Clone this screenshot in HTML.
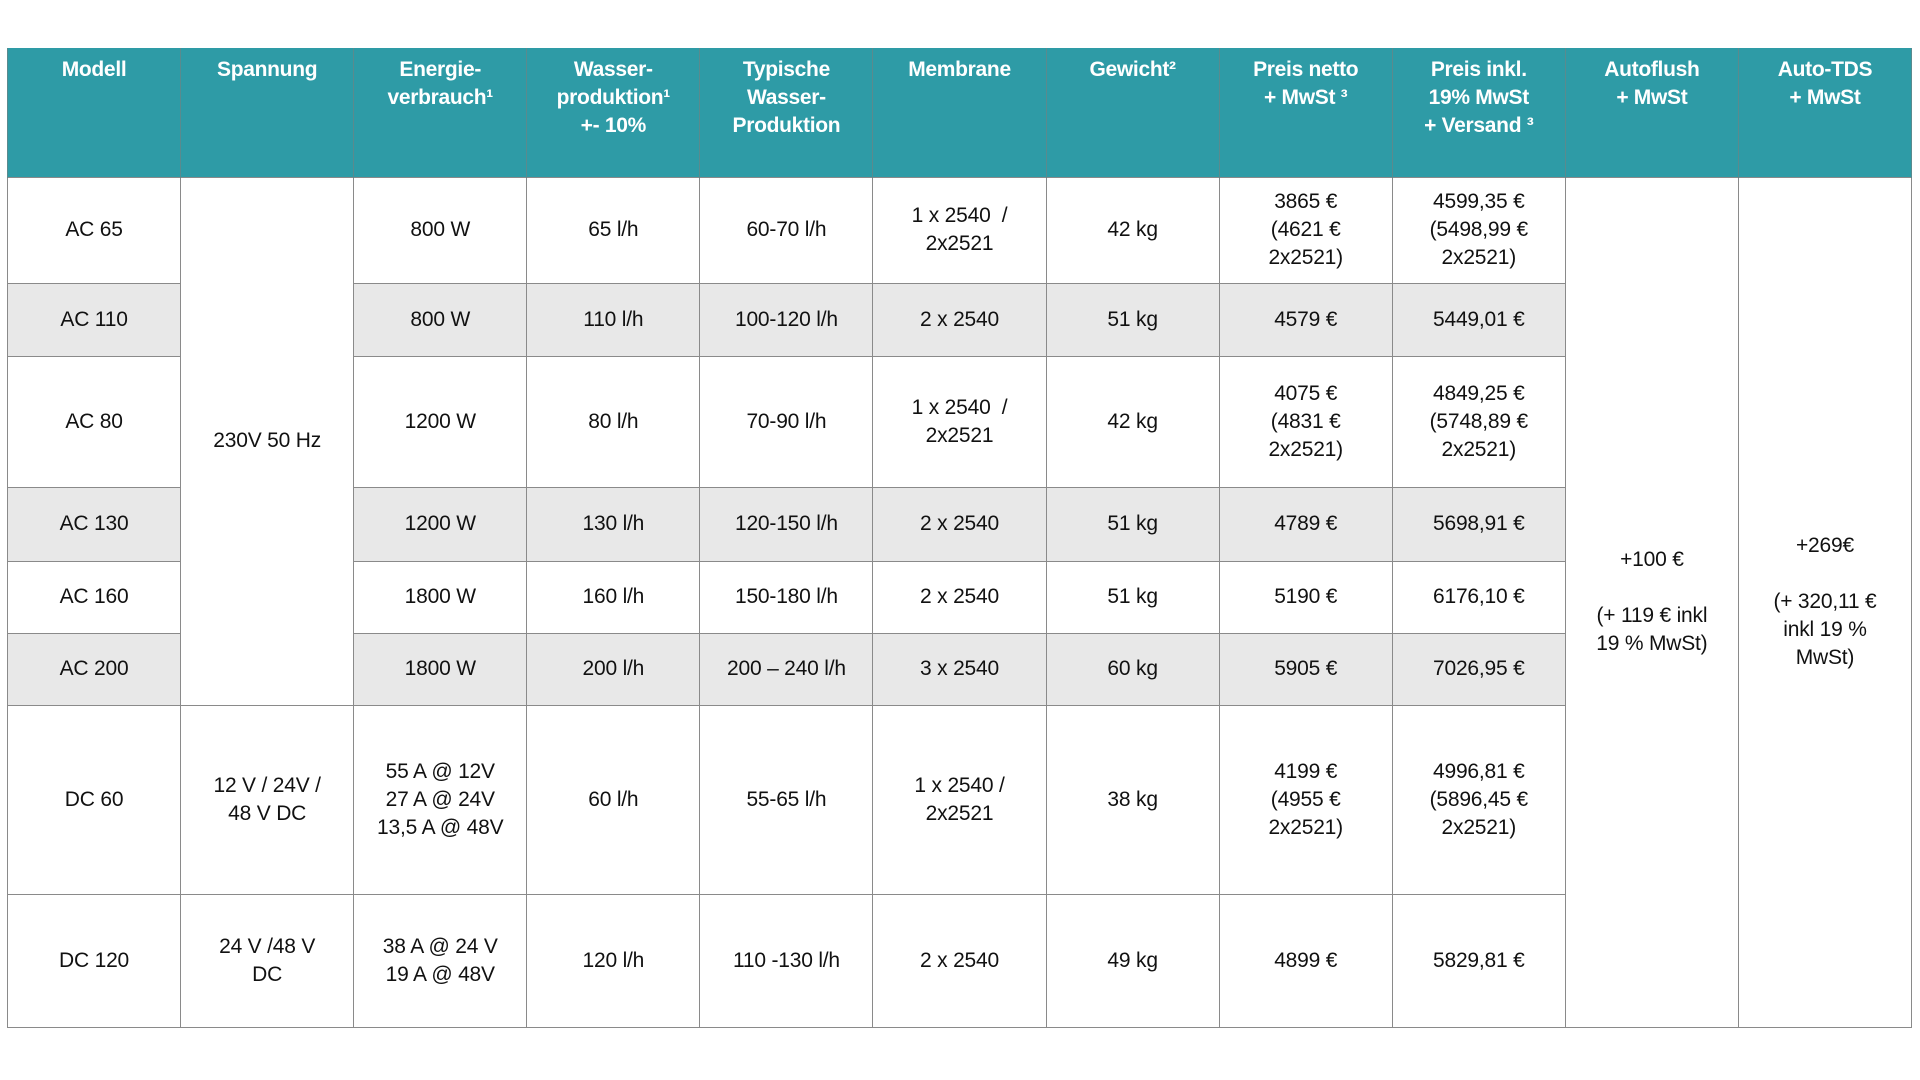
<!DOCTYPE html>
<html><head><meta charset="utf-8">
<style>
html,body{margin:0;padding:0;background:#fff;width:1920px;height:1080px;overflow:hidden}
table{position:absolute;left:7px;top:48px;border-collapse:collapse;table-layout:fixed;width:1904px;font-family:"Liberation Sans",sans-serif;}
col{width:173.1px}
th{background:#2e9ba6;color:#fff;font-weight:bold;font-size:21px;line-height:28px;vertical-align:top;padding:8px 2px 0;border-left:1px solid #5a8a8e;border-right:1px solid #5a8a8e;text-align:center;letter-spacing:-0.3px}
td{font-size:21px;line-height:28px;text-align:center;vertical-align:middle;padding:0 2px;border:1px solid #8a8a8a;color:#111;letter-spacing:-0.2px}
tr.g td.c{background:#e8e8e8}
</style></head><body>
<table>
<colgroup><col><col><col><col><col><col><col><col><col><col><col></colgroup>
<tr style="height:129px">
<th>Modell</th>
<th>Spannung</th>
<th>Energie-<br>verbrauch¹</th>
<th>Wasser-<br>produktion¹<br>+- 10%</th>
<th>Typische<br>Wasser-<br>Produktion</th>
<th>Membrane</th>
<th>Gewicht²</th>
<th>Preis netto<br>+ MwSt ³</th>
<th>Preis inkl.<br>19% MwSt<br>+ Versand ³</th>
<th>Autoflush<br>+ MwSt</th>
<th>Auto-TDS<br>+ MwSt</th>
</tr>
<tr style="height:106px">
<td class="c">AC 65</td>
<td rowspan="6">230V 50 Hz</td>
<td class="c">800 W</td>
<td class="c">65 l/h</td>
<td class="c">60-70 l/h</td>
<td class="c">1 x 2540&nbsp; /<br>2x2521</td>
<td class="c">42 kg</td>
<td class="c">3865 €<br>(4621 €<br>2x2521)</td>
<td class="c">4599,35 €<br>(5498,99 €<br>2x2521)</td>
<td rowspan="8">+100 €<br><br>(+ 119 € inkl<br>19 % MwSt)</td>
<td rowspan="8">+269€<br><br>(+ 320,11 €<br>inkl 19 %<br>MwSt)</td>
</tr>
<tr class="g" style="height:73px">
<td class="c">AC 110</td>
<td class="c">800 W</td>
<td class="c">110 l/h</td>
<td class="c">100-120 l/h</td>
<td class="c">2 x 2540</td>
<td class="c">51 kg</td>
<td class="c">4579 €</td>
<td class="c">5449,01 €</td>
</tr>
<tr style="height:131px">
<td class="c">AC 80</td>
<td class="c">1200 W</td>
<td class="c">80 l/h</td>
<td class="c">70-90 l/h</td>
<td class="c">1 x 2540&nbsp; /<br>2x2521</td>
<td class="c">42 kg</td>
<td class="c">4075 €<br>(4831 €<br>2x2521)</td>
<td class="c">4849,25 €<br>(5748,89 €<br>2x2521)</td>
</tr>
<tr class="g" style="height:74px">
<td class="c">AC 130</td>
<td class="c">1200 W</td>
<td class="c">130 l/h</td>
<td class="c">120-150 l/h</td>
<td class="c">2 x 2540</td>
<td class="c">51 kg</td>
<td class="c">4789 €</td>
<td class="c">5698,91 €</td>
</tr>
<tr style="height:72px">
<td class="c">AC 160</td>
<td class="c">1800 W</td>
<td class="c">160 l/h</td>
<td class="c">150-180 l/h</td>
<td class="c">2 x 2540</td>
<td class="c">51 kg</td>
<td class="c">5190 €</td>
<td class="c">6176,10 €</td>
</tr>
<tr class="g" style="height:72px">
<td class="c">AC 200</td>
<td class="c">1800 W</td>
<td class="c">200 l/h</td>
<td class="c">200 – 240 l/h</td>
<td class="c">3 x 2540</td>
<td class="c">60 kg</td>
<td class="c">5905 €</td>
<td class="c">7026,95 €</td>
</tr>
<tr style="height:189px">
<td class="c">DC 60</td>
<td class="c">12 V / 24V /<br>48 V DC</td>
<td class="c">55 A @ 12V<br>27 A @ 24V<br>13,5 A @ 48V</td>
<td class="c">60 l/h</td>
<td class="c">55-65 l/h</td>
<td class="c">1 x 2540 /<br>2x2521</td>
<td class="c">38 kg</td>
<td class="c">4199 €<br>(4955 €<br>2x2521)</td>
<td class="c">4996,81 €<br>(5896,45 €<br>2x2521)</td>
</tr>
<tr style="height:133px">
<td class="c">DC 120</td>
<td class="c">24 V /48 V<br>DC</td>
<td class="c">38 A @ 24 V<br>19 A @ 48V</td>
<td class="c">120 l/h</td>
<td class="c">110 -130 l/h</td>
<td class="c">2 x 2540</td>
<td class="c">49 kg</td>
<td class="c">4899 €</td>
<td class="c">5829,81 €</td>
</tr>
</table>
</body></html>
